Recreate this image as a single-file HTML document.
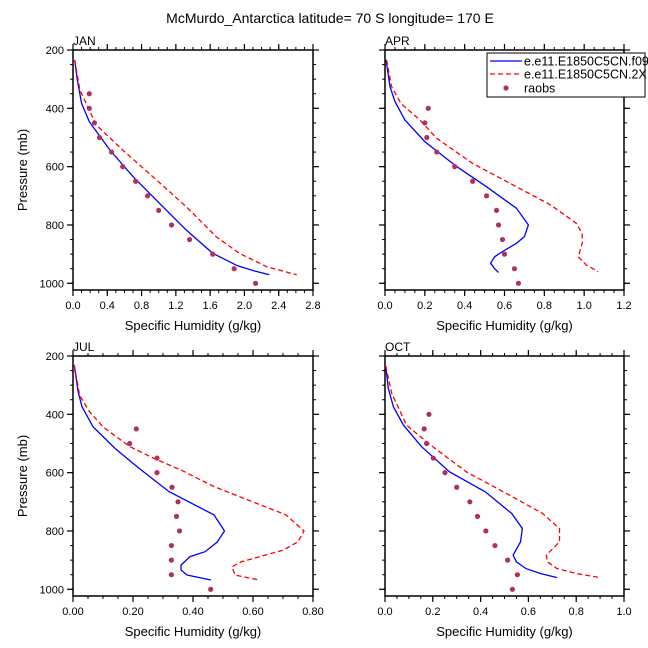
<!DOCTYPE html>
<html><head><meta charset="utf-8"><style>
html,body{margin:0;padding:0;background:#fff;overflow:hidden}
svg{display:block;font-family:"Liberation Sans",sans-serif}
</style></head><body>
<svg id="chart" width="648" height="648" viewBox="0 0 648 648">
<text x="330" y="23" font-size="14" text-anchor="middle">McMurdo_Antarctica  latitude= 70 S longitude= 170 E</text>
</svg>
<script>
// ---- data ----
const janBlueP=[234,303,383,446,543,634,726,817,897,940,958,971];
const janBlueQ=[0.02,0.05,0.10,0.19,0.43,0.70,1.01,1.32,1.63,1.92,2.12,2.29];
const janRedP=[234,337,457,543,634,737,840,897,943,971];
const janRedQ=[0.02,0.08,0.27,0.58,0.93,1.32,1.67,1.94,2.26,2.61];
const janObsP=[350,400,450,500,550,600,650,700,750,800,850,900,950,1000];
const janObsQ=[0.19,0.19,0.25,0.31,0.45,0.58,0.73,0.87,1.00,1.15,1.36,1.63,1.88,2.13];

const aprBlueP=[234,326,377,440,514,600,669,743,800,840,863,891,909,931,949,963];
const aprBlueQ=[0.005,0.025,0.05,0.10,0.20,0.36,0.51,0.66,0.72,0.70,0.66,0.59,0.55,0.53,0.55,0.57];
const aprRedP=[234,326,383,440,503,589,669,731,794,829,863,909,937,960];
const aprRedQ=[0.008,0.033,0.08,0.175,0.26,0.44,0.66,0.83,0.96,0.99,0.99,0.97,1.01,1.07];
const aprObsP=[400,450,500,550,600,650,700,750,800,850,900,950,1000];
const aprObsQ=[0.217,0.20,0.21,0.26,0.35,0.44,0.51,0.56,0.57,0.59,0.60,0.65,0.67];

const julBlueP=[231,322,374,443,517,585,665,745,800,839,871,888,917,934,951,968];
const julBlueQ=[0.004,0.017,0.03,0.067,0.14,0.22,0.32,0.47,0.505,0.48,0.44,0.39,0.36,0.36,0.38,0.46];
const julRedP=[231,334,391,443,511,551,591,648,745,791,800,837,866,906,923,951,968];
const julRedQ=[0.004,0.022,0.055,0.10,0.19,0.27,0.36,0.47,0.71,0.76,0.77,0.75,0.70,0.56,0.53,0.54,0.62];
const julObsP=[450,500,550,600,650,700,750,800,850,900,950,1000];
const julObsQ=[0.211,0.189,0.28,0.28,0.33,0.35,0.345,0.355,0.328,0.328,0.328,0.459];

const octBlueP=[234,311,374,437,511,597,666,740,792,837,883,906,929,946,960];
const octBlueQ=[0.003,0.014,0.035,0.077,0.153,0.27,0.42,0.53,0.575,0.567,0.536,0.55,0.59,0.65,0.72];
const octRedP=[234,328,437,505,597,677,740,792,837,883,906,929,946,960];
const octRedQ=[0.003,0.028,0.09,0.19,0.34,0.52,0.66,0.73,0.73,0.675,0.68,0.72,0.80,0.90];
const octObsP=[400,450,500,550,600,650,700,750,800,850,900,950,1000];
const octObsQ=[0.184,0.164,0.174,0.202,0.251,0.30,0.355,0.387,0.422,0.46,0.513,0.554,0.533];

const janXTicks=["0.0","0.4","0.8","1.2","1.6","2.0","2.4","2.8"];
const aprXTicks=["0.0","0.2","0.4","0.6","0.8","1.0","1.2"];
const julXTicks=["0.00","0.20","0.40","0.60","0.80"];
const octXTicks=["0.0","0.2","0.4","0.6","0.8","1.0"];
const yTicks=[200,400,600,800,1000];

const NS="http://www.w3.org/2000/svg";
const svg=document.getElementById('chart');
function mk(tag,attrs,parent){const e=document.createElementNS(NS,tag);for(const k in attrs)e.setAttribute(k,attrs[k]);(parent||svg).appendChild(e);return e;}

function panel(cfg){
  const g=mk('g',{});
  
  
  const {x0,x1,y0,y1,xmax,minor,showY}=cfg;
  const pMin=200,pMax=1023;
  const X=v=>x0+v/xmax*(x1-x0);
  const Y=p=>y0+(p-pMin)/(pMax-pMin)*(y1-y0);
  for(let v=0;v<=xmax+1e-9;v+=minor){const xx=X(v);
    mk('line',{x1:xx,x2:xx,y1:y1,y2:y1+3,stroke:'#000','stroke-width':1},g);
    mk('line',{x1:xx,x2:xx,y1:y0,y2:y0-3,stroke:'#000','stroke-width':1},g);}
  for(let p=200;p<=1000;p+=50){const yy=Y(p);
    mk('line',{x1:x0-3,x2:x0,y1:yy,y2:yy,stroke:'#000','stroke-width':1},g);
    mk('line',{x1:x1,x2:x1+3,y1:yy,y2:yy,stroke:'#000','stroke-width':1},g);}
  cfg.xticks.forEach(t=>{const xx=X(parseFloat(t));
    mk('line',{x1:xx,x2:xx,y1:y1,y2:y1+6,stroke:'#000','stroke-width':1.2},g);
    mk('line',{x1:xx,x2:xx,y1:y0,y2:y0-6,stroke:'#000','stroke-width':1.2},g);
    const tx=mk('text',{x:xx,y:y1+19,'font-size':11,'text-anchor':'middle'},g);tx.textContent=t;
    
    });
  yTicks.forEach(p=>{const yy=Y(p);
    mk('line',{x1:x0-6,x2:x0,y1:yy,y2:yy,stroke:'#000','stroke-width':1.2},g);
    mk('line',{x1:x1,x2:x1+6,y1:yy,y2:yy,stroke:'#000','stroke-width':1.2},g);
    if(showY){const tx=mk('text',{x:x0-9,y:yy+4,'font-size':11,'text-anchor':'end'},g);tx.textContent=p;
      
      }});
  mk('rect',{x:x0,y:y0,width:x1-x0,height:y1-y0,fill:'none',stroke:'#000','stroke-width':1.5},g);
  const lab=mk('text',{x:x0,y:y0-5,'font-size':12},g);lab.textContent=cfg.label;
  
  
  const xt=mk('text',{x:(x0+x1)/2,y:y1+40,'font-size':13,'text-anchor':'middle'},g);xt.textContent='Specific Humidity (g/kg)';
  
  
  if(showY){const yt=mk('text',{x:0,y:0,'font-size':13,'text-anchor':'middle',transform:`translate(27,${(y0+y1)/2}) rotate(-90)`},g);yt.textContent='Pressure (mb)';
    
    }
  const path=(P,Q)=>P.map((p,i)=>(i?'L':'M')+X(Q[i]).toFixed(1)+','+Y(p).toFixed(1)).join(' ');
  const b=mk('path',{d:path(cfg.bP,cfg.bQ),fill:'none',stroke:'#0000ff','stroke-width':1.3},g);
  
  
  const r=mk('path',{d:path(cfg.rP,cfg.rQ),fill:'none',stroke:'#ff0000','stroke-width':1.3,'stroke-dasharray':'5,3'},g);
  
  
  cfg.oP.forEach((p,i)=>{const c=mk('circle',{cx:X(cfg.oQ[i]),cy:Y(p),r:2.6,fill:'#b03060'},g);
    
    });
}
panel({name:'jan',label:'JAN',x0:73,x1:313,y0:50,y1:290,xmax:2.8,minor:0.1,showY:true,xticks:janXTicks,bP:janBlueP,bQ:janBlueQ,rP:janRedP,rQ:janRedQ,oP:janObsP,oQ:janObsQ});
panel({name:'apr',label:'APR',x0:385,x1:624,y0:50,y1:290,xmax:1.2,minor:0.05,showY:false,xticks:aprXTicks,bP:aprBlueP,bQ:aprBlueQ,rP:aprRedP,rQ:aprRedQ,oP:aprObsP,oQ:aprObsQ});
panel({name:'jul',label:'JUL',x0:73,x1:313,y0:356,y1:596,xmax:0.8,minor:0.05,showY:true,xticks:julXTicks,bP:julBlueP,bQ:julBlueQ,rP:julRedP,rQ:julRedQ,oP:julObsP,oQ:julObsQ});
panel({name:'oct',label:'OCT',x0:385,x1:624,y0:356,y1:596,xmax:1.0,minor:0.05,showY:false,xticks:octXTicks,bP:octBlueP,bQ:octBlueQ,rP:octRedP,rQ:octRedQ,oP:octObsP,oQ:octObsQ});
</script>
<script>
(function(){
const NS="http://www.w3.org/2000/svg";const svg=document.getElementById('chart');
const g=document.createElementNS(NS,'g');svg.appendChild(g);


g.innerHTML='<rect x="487" y="53" width="158" height="44" fill="#fff" stroke="#000" stroke-width="1"/>'+
'<line x1="490" y1="61" x2="522" y2="61" stroke="#0000ff" stroke-width="1.3"/>'+
'<text x="524" y="65.5" font-size="12.5">e.e11.E1850C5CN.f09</text>'+
'<line x1="490" y1="74" x2="522" y2="74" stroke="#ff0000" stroke-width="1.3" stroke-dasharray="5,3"/>'+
'<text x="524" y="78.5" font-size="12.5">e.e11.E1850C5CN.2X</text>'+
'<circle cx="506" cy="88" r="2.6" fill="#b03060"/>'+
'<text x="524" y="92.5" font-size="12.5">raobs</text>';
})();
</script>
</body></html>
